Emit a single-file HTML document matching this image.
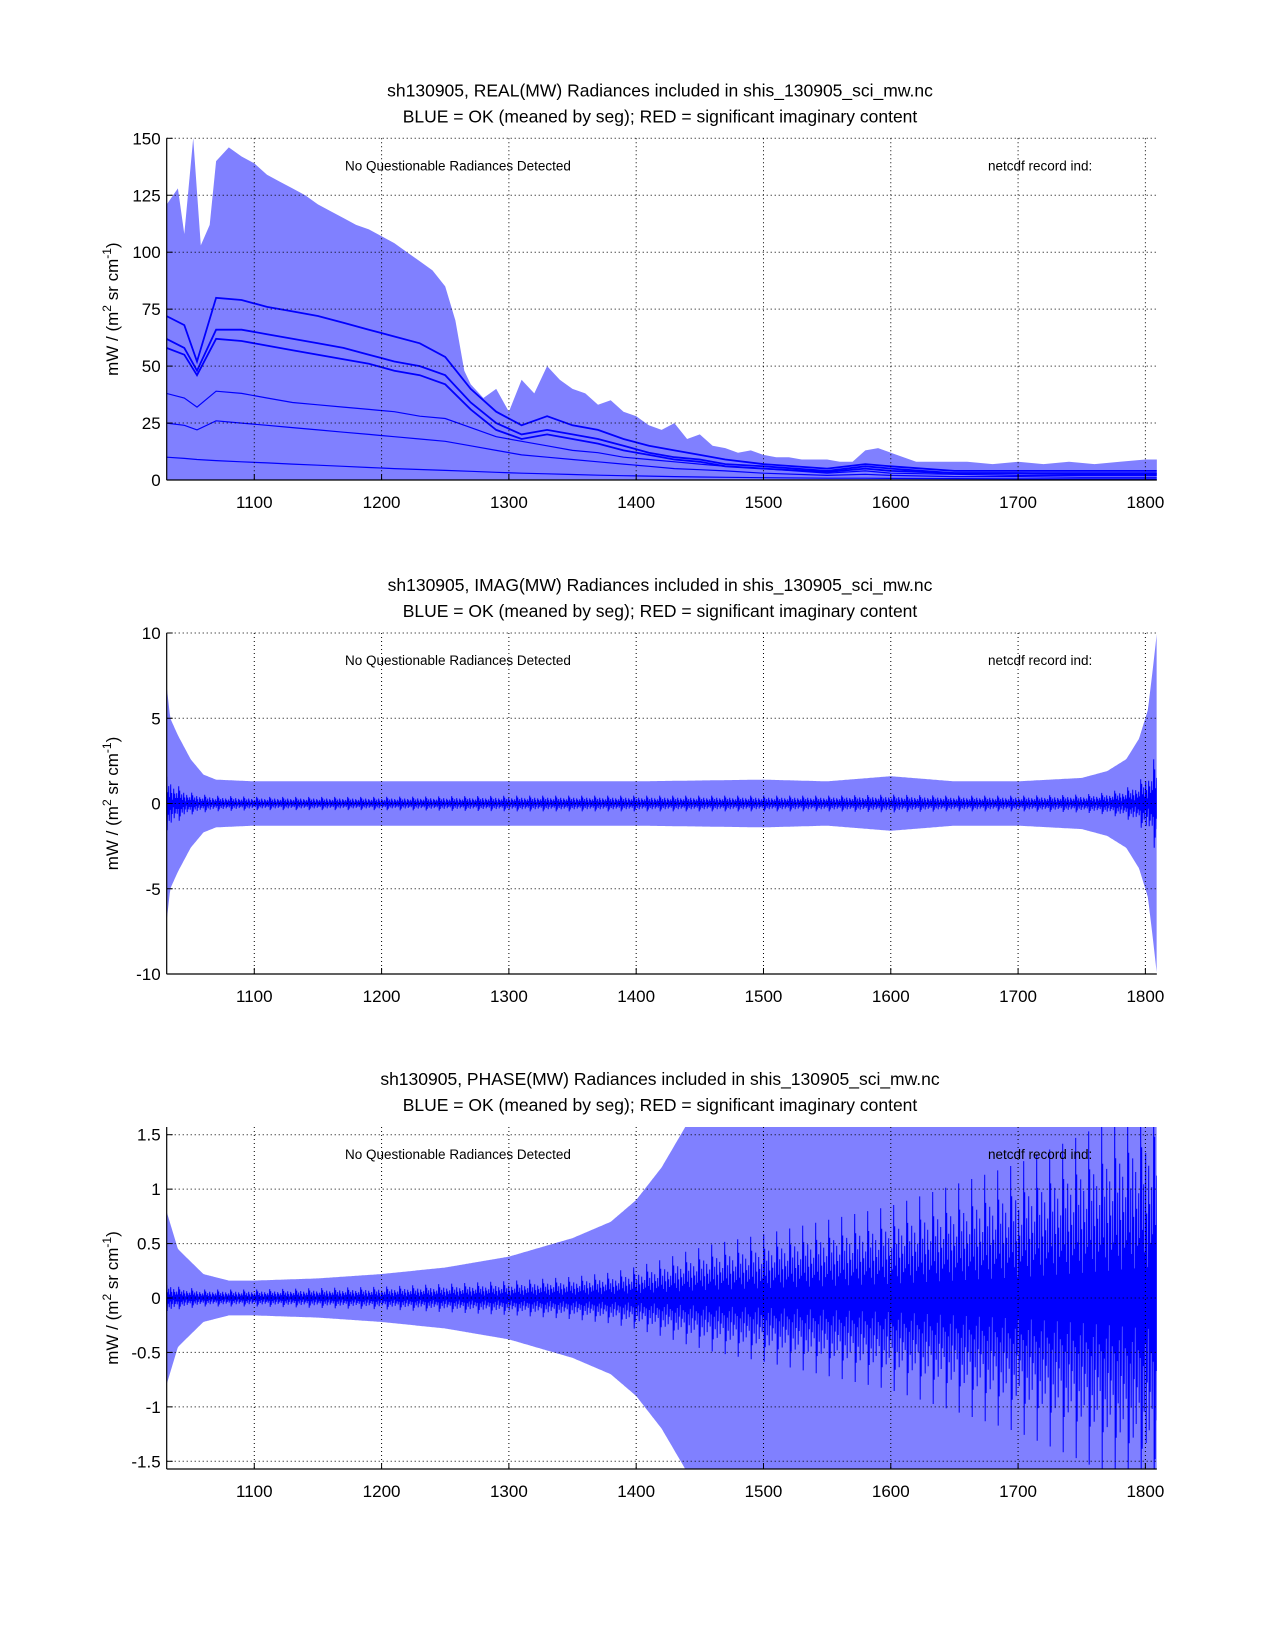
<!DOCTYPE html>
<html><head><meta charset="utf-8">
<style>
html,body{margin:0;padding:0;background:#fff;}
svg{display:block;font-family:"Liberation Sans",Arial,sans-serif;}
</style></head>
<body>
<svg id="fig" width="1275" height="1650" viewBox="0 0 1275 1650" xmlns="http://www.w3.org/2000/svg"></svg>
<script>
// ---- data ----
const xTicks = [1100,1200,1300,1400,1500,1600,1700,1800];
const realTicks = [0,25,50,75,100,125,150];
const imagTicks = [-10,-5,0,5,10];
const phaseTicks = [-1.5,-1,-0.5,0,0.5,1,1.5];
const phaseTickLabels = ['-1.5','-1','-0.5','0','0.5','1','1.5'];

// panel 1 light envelope
const realEnvWn = [1030,1040,1045,1052,1058,1065,1070,1080,1090,1100,1110,1120,1130,1140,1150,1160,1170,1180,1190,1200,1210,1220,1230,1240,1250,1258,1265,1270,1280,1290,1300,1310,1320,1330,1340,1350,1360,1370,1380,1390,1400,1410,1420,1430,1440,1450,1460,1470,1480,1490,1500,1510,1520,1530,1540,1550,1560,1570,1580,1590,1600,1610,1620,1640,1660,1680,1700,1720,1740,1760,1780,1800,1810];
const realEnvVal = [120,128,108,150,103,112,140,146,142,139,134,131,128,125,121,118,115,112,110,107,104,100,96,92,85,70,48,42,36,40,30,44,38,50,44,40,38,33,35,30,28,24,22,25,18,20,15,14,12,13,11,10,10,9,9,9,8,8,13,14,12,10,8,8,8,7,8,7,8,7,8,9,9];
// panel 1 dark mean curves
const realMeanWn = [1031,1045,1055,1070,1090,1110,1130,1150,1170,1190,1210,1230,1250,1270,1290,1310,1330,1350,1370,1390,1410,1430,1450,1470,1500,1550,1580,1600,1650,1700,1750,1809];
const realMean1 = [72,68,52,80,79,76,74,72,69,66,63,60,54,40,30,24,28,24,22,18,15,13,11,9,7,5,7,6,4,4,4,4];
const realMean2 = [62,58,48,66,66,64,62,60,58,55,52,50,46,34,25,20,22,20,18,15,12,10,9,7,6,4,6,5,3,3,3,3];
const realMean3 = [58,55,46,62,61,59,57,55,53,51,48,46,42,31,22,18,20,18,16,13,11,9,8,6,5,3.5,5,4,3,3,2.5,2.5];
const realMean4 = [38,36,32,39,38,36,34,33,32,31,30,28,27,23,19,17,15,13,12,10,9,8,7,6,5,3,4,3,2.5,2,2,2];
const realMean5 = [25,24,22,26,25,24,23,22,21,20,19,18,17,15,13,11,10,9,8,7,6,5,4.5,4,3,2,2.5,2,1.5,1.5,1.2,1.2];
const realMean6 = [10,9.5,9,8.5,8,7.5,7,6.5,6,5.5,5,4.6,4.2,3.8,3.4,3,2.7,2.4,2.1,1.9,1.7,1.5,1.3,1.2,1,0.8,0.8,0.7,0.6,0.5,0.5,0.5];
// panel 2 envelopes
const imagWn = [1031,1034,1040,1050,1060,1070,1100,1200,1300,1400,1500,1550,1600,1650,1700,1750,1770,1785,1795,1802,1806,1809];
const imagLight = [7,5,4,2.6,1.7,1.4,1.3,1.3,1.3,1.3,1.4,1.3,1.6,1.3,1.3,1.5,1.9,2.6,3.8,5.5,8,10];
const imagDark = [1.6,1.2,0.8,0.5,0.4,0.35,0.3,0.3,0.35,0.35,0.35,0.35,0.4,0.35,0.35,0.4,0.5,0.7,1,1.5,2,2];
// panel 3 envelopes
const phaseWn = [1031,1040,1060,1080,1100,1150,1200,1250,1300,1350,1380,1400,1420,1440,1460,1500,1550,1600,1650,1700,1750,1800,1809];
const phaseLight = [0.8,0.45,0.22,0.16,0.16,0.18,0.22,0.28,0.38,0.55,0.7,0.9,1.2,1.6,1.6,1.6,1.6,1.6,1.6,1.6,1.6,1.6,1.6];
const phaseDark = [0.12,0.08,0.06,0.06,0.06,0.07,0.08,0.1,0.12,0.15,0.18,0.22,0.27,0.33,0.38,0.45,0.55,0.65,0.8,0.95,1.15,1.4,1.5];

// ---- layout ----
const NS='http://www.w3.org/2000/svg';
const svg=document.getElementById('fig');
const X0=166.7, XMIN=1031.2, XMAX=1809, PXU=1.273;
function xs(v){return X0+(v-XMIN)*PXU;}
const XR=xs(XMAX);
function interp(wn,val,v){
  if(v<=wn[0])return val[0];
  for(let i=1;i<wn.length;i++){if(v<=wn[i]){const t=(v-wn[i-1])/(wn[i]-wn[i-1]);return val[i-1]+t*(val[i]-val[i-1]);}}
  return val[val.length-1];
}
function mk(tag,attrs,parent){const e=document.createElementNS(NS,tag);for(const k in attrs)e.setAttribute(k,attrs[k]);(parent||svg).appendChild(e);return e;}
const LIGHT='#8080ff', DARK='#0000ff';
const pattern=[1,0.45,0.75,0.3,0.95,0.55,0.2,0.85,0.6,0.35,0.7,0.4,1.3];

function panel(name,T,B,ymin,ymax,ticks,tickLabels,title1,draw){
  const g=mk('g',{});
  
  
  const ys=v=>B-(v-ymin)/(ymax-ymin)*(B-T);
  const clipId='clip-'+name;
  const cp=mk('clipPath',{id:clipId},g);
  mk('rect',{x:X0,y:T,width:XR-X0,height:B-T},cp);
  const dg=mk('g',{'clip-path':'url(#'+clipId+')'},g);
  
  
  draw(dg,ys);
  xTicks.forEach(t=>{
    const l=mk('line',{x1:xs(t),x2:xs(t),y1:T,y2:B,stroke:'#000','stroke-width':1,'stroke-dasharray':'1,3'},g);
    
    
    mk('line',{x1:xs(t),x2:xs(t),y1:B,y2:B-6,stroke:'#000'},g);
    const tx=mk('text',{x:xs(t),y:B+28,'text-anchor':'middle','font-size':17},g);
    tx.textContent=t;
    
    
  });
  ticks.forEach((t,i)=>{
    mk('line',{x1:X0,x2:XR,y1:ys(t),y2:ys(t),stroke:'#000','stroke-width':1,'stroke-dasharray':'1,3'},g);
    mk('line',{x1:X0,x2:X0+6,y1:ys(t),y2:ys(t),stroke:'#000'},g);
    const tx=mk('text',{x:X0-6,y:ys(t)+6,'text-anchor':'end','font-size':17},g);
    tx.textContent=tickLabels[i];
    
    
  });
  mk('line',{x1:X0,x2:X0,y1:T,y2:B,stroke:'#000','stroke-width':1.2},g);
  mk('line',{x1:X0,x2:XR,y1:B,y2:B,stroke:'#000','stroke-width':1.2},g);
  const t1=mk('text',{x:660,y:T-42,'text-anchor':'middle','font-size':17.5},g);
  t1.textContent=title1;
  
  
  const t2=mk('text',{x:660,y:T-16,'text-anchor':'middle','font-size':17.5},g);
  t2.textContent='BLUE = OK (meaned by seg); RED = significant imaginary content';
  
  
  const a1=mk('text',{x:345,y:T+32,'font-size':13.5},g);
  a1.textContent='No Questionable Radiances Detected';
  
  
  const a2=mk('text',{x:988,y:T+32,'font-size':13.5},g);
  a2.textContent='netcdf record ind:';
  
  
  const my=(T+B)/2;
  const yl=mk('text',{transform:'translate(118,'+my+') rotate(-90)','text-anchor':'middle','font-size':17},g);
  yl.innerHTML='mW / (m<tspan dy="-7" font-size="12">2</tspan><tspan dy="7"> sr cm</tspan><tspan dy="-7" font-size="12">-1</tspan><tspan dy="7">)</tspan>';
  
  
}

function band(g,ys,wn,center,amp,color,mod,name){
  let pts=[];let i=0;
  for(let px=X0;px<=XR;px+=1,i++){
    const v=XMIN+(px-X0)/PXU;
    const a=interp(wn,amp,v)*(mod?pattern[i%pattern.length]:1);
    pts.push(px.toFixed(1)+','+ys(center+a).toFixed(1));
    pts.push((px+0.5).toFixed(1)+','+ys(center-a).toFixed(1));
  }
  const p=mk('polyline',{points:pts.join(' '),fill:'none',stroke:color,'stroke-width':1},g);
  
  
}
function envelope(g,ys,wn,amp,color,name){
  let up=[],lo=[];
  for(let px=X0;px<=XR;px+=1){
    const v=XMIN+(px-X0)/PXU;const a=interp(wn,amp,v);
    up.push(px.toFixed(1)+','+ys(a).toFixed(1));lo.unshift(px.toFixed(1)+','+ys(-a).toFixed(1));
  }
  const p=mk('polygon',{points:up.concat(lo).join(' '),fill:color},g);
  
  
}

panel('real-panel',138.3,480,0,150,realTicks,realTicks.map(String),'sh130905, REAL(MW) Radiances included in shis_130905_sci_mw.nc',(g,ys)=>{
  let pts=[xs(XMIN)+','+ys(0)];
  realEnvWn.forEach((w,i)=>pts.push(xs(w).toFixed(1)+','+ys(realEnvVal[i]).toFixed(1)));
  pts.push(xs(1810)+','+ys(0));
  const p=mk('polygon',{points:pts.join(' '),fill:LIGHT},g);
  
  
  [realMean1,realMean2,realMean3,realMean4,realMean5,realMean6].forEach((arr,k)=>{
    const l=mk('polyline',{points:realMeanWn.map((w,i)=>xs(w).toFixed(1)+','+ys(arr[i]).toFixed(1)).join(' '),fill:'none',stroke:DARK,'stroke-width':k<3?1.8:1.2},g);
    
    
  });
});

panel('imag-panel',633,974,-10,10,imagTicks,imagTicks.map(String),'sh130905, IMAG(MW) Radiances included in shis_130905_sci_mw.nc',(g,ys)=>{
  envelope(g,ys,imagWn,imagLight,LIGHT,'imag-range-fill');
  band(g,ys,imagWn,0,imagDark,DARK,true,'imag-mean-line');
});

panel('phase-panel',1127,1469,-Math.PI/2,Math.PI/2,phaseTicks,phaseTickLabels,'sh130905, PHASE(MW) Radiances included in shis_130905_sci_mw.nc',(g,ys)=>{
  envelope(g,ys,phaseWn,phaseLight,LIGHT,'phase-range-fill');
  band(g,ys,phaseWn,0,phaseDark,DARK,true,'phase-mean-line');
});
</script>
</body></html>
